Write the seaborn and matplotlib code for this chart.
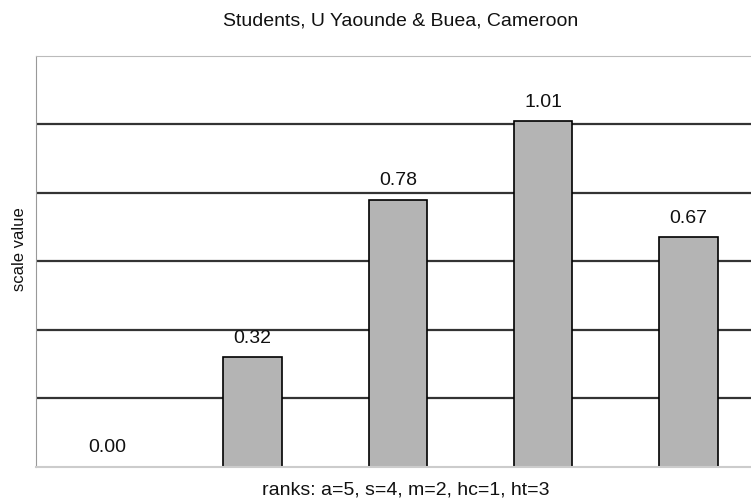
import seaborn as sns
import matplotlib.pyplot as plt
import pandas as pd

# 데이터
ranks = ["a", "s", "m", "hc", "ht"]
scale_values = [0.00, 0.32, 0.78, 1.01, 0.67]
value_labels = ["0.00", "0.32", "0.78", "1.01", "0.67"]

df = pd.DataFrame({"rank": ranks, "scale": scale_values})

sns.set_style("white")
plt.rcParams["font.family"] = ["Liberation Sans", "DejaVu Sans"]

fig = plt.figure(figsize=(7.51, 5.04), dpi=100)
ax = fig.add_axes([36 / 751, 1 - 466.7 / 504, (751 - 36) / 751, (466.7 - 56) / 504])

sns.barplot(data=df, x="rank", y="scale", order=ranks, color="#b4b4b4",
            edgecolor="black", linewidth=1.2, width=0.4, saturation=1, ax=ax)

# 막대 위 값 표시
for i, (v, lab) in enumerate(zip(scale_values, value_labels)):
    ax.annotate(lab, (i, v), xytext=(0, 13.5), textcoords="offset points",
                ha="center", va="center", fontsize=14, color="#111111")

ax.set_xlim(-0.49, 4.43)
ax.set_ylim(0, 1.2)
ax.set_yticks([0.2, 0.4, 0.6, 0.8, 1.0])
ax.yaxis.grid(True, color="#333333", linewidth=1.6)
ax.set_axisbelow(True)
ax.tick_params(left=False, bottom=False, labelleft=False, labelbottom=False)

ax.spines["right"].set_visible(False)
ax.spines["top"].set_color("#bbbbbb")
ax.spines["top"].set_linestyle((0, (2, 1)))
ax.spines["left"].set_color("#999999")
ax.spines["bottom"].set_color("#cccccc")
ax.spines["bottom"].set_linewidth(1.5)

ax.set_xlabel("")
ax.set_ylabel("")
fig.text(406 / 751, 1 - 490 / 504, "ranks: a=5, s=4, m=2, hc=1, ht=3",
         ha="center", va="center", fontsize=14, color="#111111")
fig.text(20 / 751, 1 - 249 / 504, "scale value", rotation=90,
         ha="center", va="center", fontsize=12, color="#111111")
fig.text(401 / 751, 1 - 21 / 504, "Students, U Yaounde & Buea, Cameroon",
         ha="center", va="center", fontsize=14, color="#111111")

fig.savefig("out.png", dpi=100)
